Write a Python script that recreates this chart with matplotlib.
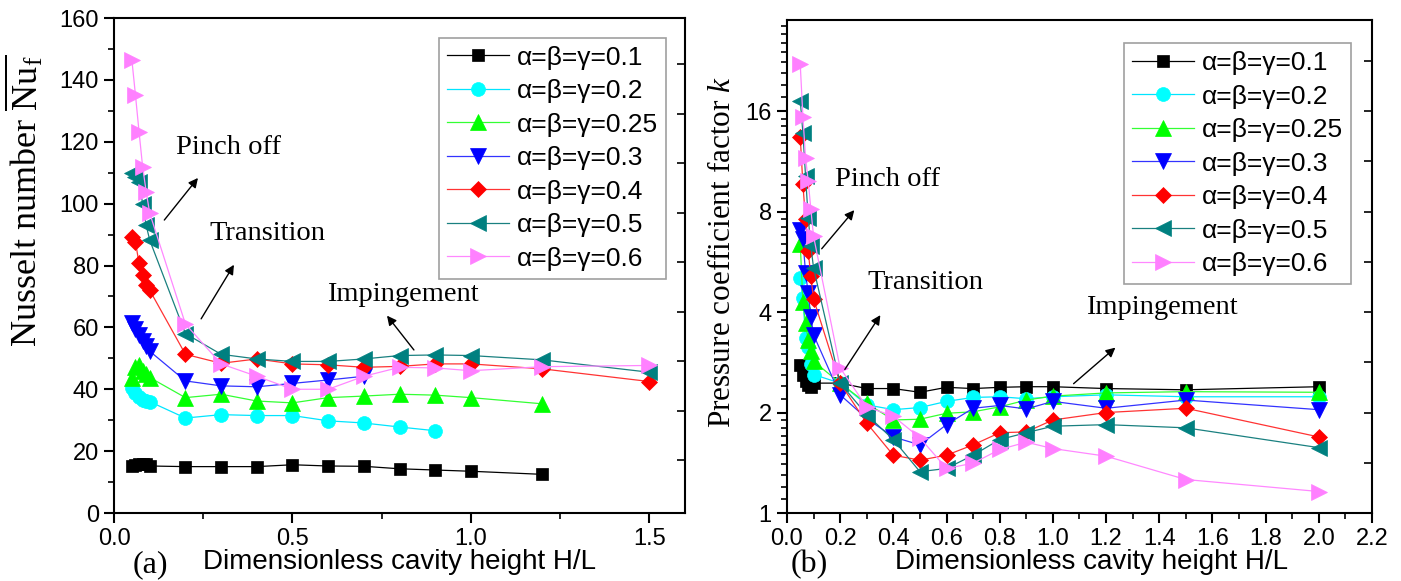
import matplotlib
matplotlib.use("Agg")
import matplotlib.pyplot as plt
import numpy as np
from matplotlib.ticker import FixedLocator, MultipleLocator, NullFormatter, FixedFormatter

# ---------------- data ----------------
labels = ["α=β=γ=0.1", "α=β=γ=0.2", "α=β=γ=0.25", "α=β=γ=0.3",
          "α=β=γ=0.4", "α=β=γ=0.5", "α=β=γ=0.6"]

# (a) Nusselt number
nu_x_01 = [0.05, 0.06, 0.07, 0.08, 0.09, 0.1, 0.2, 0.3, 0.4, 0.5, 0.6, 0.7, 0.8, 0.9, 1.0, 1.2]
nu_01 = [15.2, 15.6, 16.0, 16.0, 15.8, 15.2, 15.0, 15.0, 15.0, 15.6, 15.2, 15.1, 14.3, 13.9, 13.5, 12.5]
nu_x_02 = [0.05, 0.06, 0.07, 0.08, 0.09, 0.1, 0.2, 0.3, 0.4, 0.5, 0.6, 0.7, 0.8, 0.9]
nu_02 = [40.5, 38.9, 37.5, 36.6, 36.2, 36.0, 30.7, 31.8, 31.5, 31.5, 29.8, 29.1, 27.8, 26.6]
nu_x_025 = [0.05, 0.06, 0.07, 0.08, 0.09, 0.1, 0.2, 0.3, 0.4, 0.5, 0.6, 0.7, 0.8, 0.9, 1.0, 1.2]
nu_025 = [43.8, 47.1, 48.0, 46.0, 44.8, 43.8, 37.3, 38.4, 36.2, 35.6, 37.3, 37.8, 38.4, 38.1, 37.3, 35.3]
nu_x_03 = [0.05, 0.06, 0.07, 0.08, 0.09, 0.1, 0.2, 0.3, 0.4, 0.5, 0.6, 0.7]
nu_03 = [61.5, 59.5, 57.5, 55.5, 54.0, 52.3, 42.7, 41.1, 40.8, 41.9, 43.0, 44.2]
nu_x_long = [0.05, 0.06, 0.07, 0.08, 0.09, 0.1, 0.2, 0.3, 0.4, 0.5, 0.6, 0.7, 0.8, 0.9, 1.0, 1.2, 1.5]
nu_04 = [89.3, 87.7, 80.7, 76.9, 73.7, 72.0, 51.3, 48.4, 49.8, 48.2, 47.9, 47.1, 47.4, 48.2, 48.2, 46.6, 42.5]
nu_05 = [110.0, 108.5, 107.0, 100.0, 93.0, 88.2, 58.0, 51.3, 49.8, 49.0, 49.0, 49.8, 50.9, 51.1, 50.9, 49.5, 45.5]
nu_06 = [146.4, 135.1, 123.3, 112.0, 103.9, 96.9, 61.1, 48.2, 44.2, 40.0, 40.0, 44.2, 47.1, 46.9, 46.0, 47.3, 47.7]

# (b) Pressure coefficient factor k
k_x = [0.05, 0.06, 0.07, 0.08, 0.09, 0.1, 0.2, 0.3, 0.4, 0.5, 0.6, 0.7, 0.8, 0.9, 1.0, 1.2, 1.5, 2.0]
k_01 = [2.78, 2.60, 2.48, 2.42, 2.39, 2.45, 2.45, 2.36, 2.36, 2.30, 2.38, 2.36, 2.38, 2.39, 2.39, 2.36, 2.34, 2.39]
k_02 = [5.05, 4.40, 3.35, 3.15, 2.80, 2.60, 2.45, 2.11, 2.04, 2.07, 2.16, 2.22, 2.23, 2.20, 2.23, 2.26, 2.23, 2.23]
k_025 = [6.40, 4.30, 3.70, 3.30, 3.05, 2.85, 2.45, 2.13, 1.90, 1.91, 1.99, 2.01, 2.08, 2.18, 2.24, 2.29, 2.31, 2.30]
k_03 = [7.07, 6.60, 5.24, 4.56, 3.87, 3.42, 2.26, 1.92, 1.69, 1.60, 1.84, 2.06, 2.10, 2.05, 2.16, 2.06, 2.18, 2.04]
k_04 = [13.4, 9.65, 7.58, 6.08, 5.12, 4.38, 2.45, 1.86, 1.49, 1.44, 1.49, 1.60, 1.74, 1.75, 1.90, 2.00, 2.06, 1.69]
k_05 = [17.2, 13.8, 10.2, 7.66, 6.30, 5.43, 2.45, 1.97, 1.66, 1.33, 1.36, 1.49, 1.66, 1.74, 1.82, 1.84, 1.80, 1.57]
k_06 = [22.1, 15.4, 11.6, 9.87, 8.12, 6.75, 2.72, 2.08, 1.95, 1.68, 1.36, 1.41, 1.55, 1.63, 1.56, 1.48, 1.26, 1.16]

k_yticks = [1, 2, 4, 8, 16]

# ---------------- style ----------------
line_colors = ["#000000", "#00e5ff", "#33ff33", "#3333ff", "#ff3333", "#1a8080", "#ff88ff"]
mk_colors = ["#000000", "#00ffff", "#00ff00", "#0000ff", "#ff0000", "#008080", "#ff80ff"]
markers = ["s", "o", "^", "v", "D", "<", ">"]
msizes = [9, 10, 11, 11, 8.5, 11, 11]

SANS = ["Liberation Sans", "DejaVu Sans"]
SERIF = ["Liberation Serif", "DejaVu Serif"]
plt.rcParams["font.family"] = SANS
plt.rcParams["mathtext.fontset"] = "custom"
plt.rcParams["mathtext.rm"] = "Liberation Serif"
plt.rcParams["mathtext.it"] = "Liberation Serif:italic"

fig = plt.figure(figsize=(14.01, 5.81), dpi=100)
axa = fig.add_axes([0.0814, 0.117, 0.4076, 0.852])
axb = fig.add_axes([0.5617, 0.117, 0.4176, 0.8486])

def plot_series(ax, xs, ys, i):
    ax.plot(xs, ys, color=line_colors[i], lw=0.9, marker=markers[i],
            ms=msizes[i], mfc=mk_colors[i], mec=mk_colors[i], mew=0.5,
            label=labels[i], zorder=3)

nu_series = [(nu_x_01, nu_01), (nu_x_02, nu_02), (nu_x_025, nu_025), (nu_x_03, nu_03),
             (nu_x_long, nu_04), (nu_x_long, nu_05), (nu_x_long, nu_06)]
for i, (xs, ys) in enumerate(nu_series):
    plot_series(axa, xs, ys, i)

k_series = [k_01, k_02, k_025, k_03, k_04, k_05, k_06]
for i, ys in enumerate(k_series):
    plot_series(axb, k_x, ys, i)

# ---- axes (a)
axa.set_xlim(0, 1.6)
axa.set_ylim(0, 160)
axa.xaxis.set_major_locator(FixedLocator([0.0, 0.5, 1.0, 1.5]))
axa.xaxis.set_major_formatter(FixedFormatter(["0.0", "0.5", "1.0", "1.5"]))
axa.xaxis.set_minor_locator(MultipleLocator(0.25))
axa.yaxis.set_major_locator(MultipleLocator(20))
axa.yaxis.set_minor_locator(MultipleLocator(10))

# ---- axes (b)
axb.set_yscale("log")
axb.set_xlim(0, 2.2)
axb.set_ylim(1, 30)
axb.xaxis.set_major_locator(MultipleLocator(0.2))
axb.xaxis.set_minor_locator(MultipleLocator(0.1))
axb.xaxis.set_major_formatter(matplotlib.ticker.FormatStrFormatter("%.1f"))
axb.yaxis.set_major_locator(FixedLocator(k_yticks))
axb.yaxis.set_major_formatter(FixedFormatter([str(v) for v in k_yticks]))
minor_b = []
for base in [1, 2, 4, 8, 16]:
    for f in np.arange(1.1, 2.0, 0.1):
        if base * f < 30:
            minor_b.append(base * f)
axb.yaxis.set_minor_locator(FixedLocator(minor_b))
axb.yaxis.set_minor_formatter(NullFormatter())

for ax in (axa, axb):
    for s in ax.spines.values():
        s.set_linewidth(1.5)
    ax.tick_params(axis="both", which="major", direction="out", length=7, width=1.5,
                   labelsize=17, pad=4)
    ax.tick_params(axis="both", which="minor", direction="out", length=4, width=1.2)
    ax.tick_params(top=False, right=False, which="both")

# inward ticks on right spines (no labels)
tw_a = axa.twinx()
tw_a.set_ylim(0, 160)
tw_a.set_yticks([17, 33, 49, 65, 81, 97, 113, 129, 145])
tw_a.tick_params(axis="y", direction="in", length=6, width=1.2, labelright=False)
tw_a.yaxis.set_minor_locator(FixedLocator([]))
tw_b = axb.twinx()
tw_b.set_yscale("log")
tw_b.set_ylim(1, 30)
tw_b.yaxis.set_major_locator(FixedLocator([2 ** (n / 2) for n in range(1, 10)]))
tw_b.yaxis.set_minor_locator(FixedLocator([]))
tw_b.tick_params(axis="y", direction="in", length=6, width=1.2, labelright=False)
for t in (tw_a, tw_b):
    for s in t.spines.values():
        s.set_visible(False)

# labels
axa.set_ylabel(r"Nusselt number $\overline{\mathrm{Nu}_\mathrm{f}}$", family=SERIF, fontsize=26)
axa.yaxis.set_label_coords(-0.12, 0.63)
axb.set_ylabel(r"Pressure coefficient factor $k$", family=SERIF, fontsize=22.5)
axb.yaxis.set_label_coords(-0.085, 0.53)
axa.set_xlabel("Dimensionless cavity height H/L", fontsize=20)
axa.xaxis.set_label_coords(0.50, -0.072)
axb.set_xlabel("Dimensionless cavity height H/L", fontsize=20)
axb.xaxis.set_label_coords(0.52, -0.072)
fig.text(0.095, 0.003, "(a)", family=SERIF, fontsize=23, va="bottom")
fig.text(0.564, 0.003, "(b)", family=SERIF, fontsize=23, va="bottom")

# legends
for ax, anchor in ((axa, (0.967, 0.96)), (axb, (0.964, 0.953))):
    leg = ax.legend(loc="upper right", bbox_to_anchor=anchor, fontsize=19,
                    frameon=True, fancybox=False, edgecolor="#888888",
                    handlelength=2.35, handletextpad=0.3, labelspacing=0.36,
                    borderpad=0.3, borderaxespad=0)
    leg.get_frame().set_linewidth(1.2)

# annotations
ann_kw = dict(family=SERIF, fontsize=20.5, ha="center", va="center")
arr = dict(arrowstyle="-|>", color="black", lw=1.0, mutation_scale=14)
axa.text(0.32, 118, "Pinch off", **ann_kw)
axa.annotate("", xy=(0.24, 109), xytext=(0.136, 94), arrowprops=arr)
axa.text(0.43, 90.5, "Transition", **ann_kw)
axa.annotate("", xy=(0.34, 81), xytext=(0.24, 62), arrowprops=arr)
axa.text(0.81, 70.5, "Impingement", **ann_kw)
axa.annotate("", xy=(0.76, 64.5), xytext=(0.845, 52), arrowprops=arr)

axb.text(0.38, 10.0, "Pinch off", **ann_kw)
axb.annotate("", xy=(0.26, 8.2), xytext=(0.124, 6.1), arrowprops=arr)
axb.text(0.52, 4.9, "Transition", **ann_kw)
axb.annotate("", xy=(0.357, 3.98), xytext=(0.212, 2.65), arrowprops=arr)
axb.text(1.41, 4.14, "Impingement", **ann_kw)
axb.annotate("", xy=(1.243, 3.17), xytext=(1.07, 2.41), arrowprops=arr)

fig.savefig("out.png", dpi=100)
